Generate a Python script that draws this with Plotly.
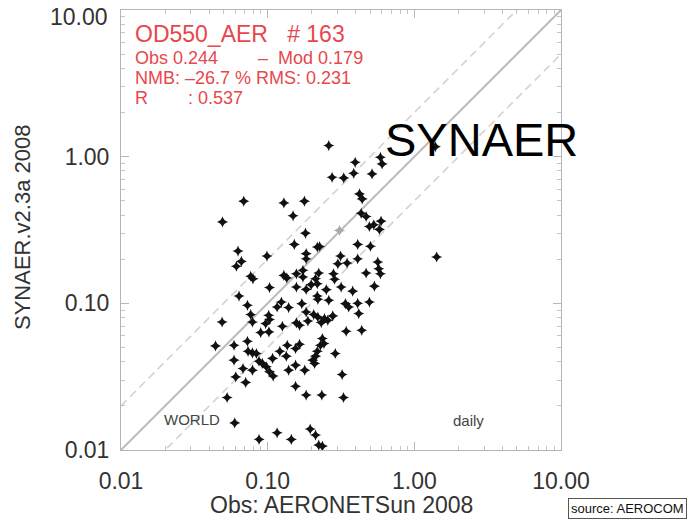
import plotly.graph_objects as go

# Observed (AERONETSun 2008) and modelled (SYNAER.v2.3a 2008) daily AOD at 550 nm
obs = [0.261, 1.39, 0.395, 0.587, 0.603, 0.386, 0.275, 0.330, 0.515, 0.0687, 0.129, 0.178,
       0.423, 0.441, 0.0492, 0.149, 0.434, 0.469, 0.593, 0.494, 0.529, 0.578, 0.181,
       0.152, 0.218, 0.226, 0.411, 0.502, 0.0628, 0.0989, 0.183, 0.183, 0.314, 0.301, 0.348,
       0.411, 0.563, 0.572, 0.587, 1.42, 0.0662, 0.0612, 0.0766, 0.0794, 0.129, 0.135, 0.157,
       0.174, 0.174, 0.212, 0.223, 0.281, 0.286, 0.469, 0.103, 0.157, 0.183, 0.198, 0.218,
       0.251, 0.317, 0.380, 0.534, 0.0638, 0.218, 0.220, 0.261,
       0.0728, 0.124, 0.116, 0.139, 0.171, 0.339, 0.357, 0.411, 0.494, 0.0766, 0.1016, 0.103,
       0.183, 0.206, 0.220, 0.244, 0.278, 0.418, 0.0489, 0.0787, 0.0969, 0.126, 0.157, 0.165,
       0.188, 0.232, 0.257, 0.0896, 0.102, 0.343, 0.438, 0.0441, 0.059, 0.0728, 0.136, 0.165,
       0.155, 0.236, 0.229, 0.242, 0.0735, 0.0787, 0.0838, 0.121, 0.134, 0.218, 0.212, 0.289,
       0.059, 0.0873, 0.092, 0.098, 0.108, 0.203, 0.209, 0.0679, 0.0787, 0.103, 0.109, 0.139,
       0.155, 0.179, 0.0606, 0.0708, 0.322, 0.155, 0.0529, 0.183, 0.234, 0.329, 0.0596,
       0.0873, 0.116, 0.145, 0.195, 0.212, 0.223, 0.236]

mod = [1.19, 1.17, 0.915, 0.989, 0.892, 0.770, 0.723, 0.716, 0.763, 0.497, 0.484, 0.497,
       0.557, 0.515, 0.359, 0.395, 0.411, 0.391, 0.363, 0.334, 0.343, 0.319, 0.301,
       0.252, 0.242, 0.244, 0.252, 0.245, 0.227, 0.210, 0.218, 0.201, 0.210, 0.186, 0.188,
       0.201, 0.191, 0.172, 0.159, 0.207, 0.193, 0.179, 0.153, 0.147, 0.155, 0.149, 0.159,
       0.168, 0.151, 0.147, 0.161, 0.159, 0.146, 0.161, 0.128, 0.129, 0.1245, 0.134, 0.136,
       0.124, 0.129, 0.121, 0.131, 0.112, 0.112, 0.1065, 0.105,
       0.0969, 0.102, 0.0944, 0.0935, 0.0995, 0.0995, 0.0944, 0.100, 0.102, 0.0838, 0.0828,
       0.0775, 0.0873, 0.0838, 0.0807, 0.0787, 0.0820, 0.0851, 0.0746, 0.0746, 0.0728, 0.0698,
       0.0735, 0.0708, 0.0758, 0.0739, 0.0766, 0.0632, 0.0638, 0.0645, 0.0655, 0.0512, 0.0518,
       0.0551, 0.0518, 0.0526, 0.0492, 0.0575, 0.0518, 0.0532, 0.0471, 0.0459, 0.0455, 0.0471,
       0.0436, 0.0471, 0.0436, 0.0455, 0.0410, 0.0403, 0.0389, 0.0369, 0.0421, 0.041, 0.0389,
       0.0359, 0.035, 0.0341, 0.0319, 0.035, 0.0379, 0.035, 0.0315, 0.0289, 0.0327, 0.0272,
       0.0228, 0.0237, 0.0237, 0.0228, 0.0153, 0.0118, 0.0131, 0.0118, 0.0139, 0.01265,
       0.0108, 0.01065]

# grey reference marker on the 1:1 line
ref_obs = [0.309]
ref_mod = [0.314]

line_x = [0.01, 10.0]
factor = 2.0

tick_vals = [0.01, 0.1, 1.0, 10.0]
tick_text = ["0.01", "0.10", "1.00", "10.00"]
minor_vals = [m * d for d in (0.01, 0.1, 1.0) for m in range(2, 10)]

x_title = "Obs: AERONETSun 2008"
y_title = "SYNAER.v2.3a 2008"
stats_title = "OD550_AER   # 163"
stats_lines = ["Obs 0.244        &#8211;  Mod 0.179",
               "NMB: &#8211;26.7 % RMS: 0.231",
               "R        : 0.537"]

RED = "#e8474c"
FONT = "Liberation Sans"
PL, PR, PT, PB = 121, 561, 10, 450   # plot frame in pixels
PW, PH = PR - PL, PB - PT


def px(x):
    return (x - PL) / PW


def py(y):
    return (PB - y) / PH


fig = go.Figure()

fig.add_trace(go.Scatter(x=line_x, y=[v * factor for v in line_x], mode="lines",
                         line=dict(color="#d2d2d2", width=1.6, dash="8px,5px"), hoverinfo="skip"))
fig.add_trace(go.Scatter(x=line_x, y=[v / factor for v in line_x], mode="lines",
                         line=dict(color="#d2d2d2", width=1.6, dash="8px,5px"), hoverinfo="skip"))
fig.add_trace(go.Scatter(x=line_x, y=line_x, mode="lines",
                         line=dict(color="#bdbdbd", width=2), hoverinfo="skip"))
fig.add_trace(go.Scatter(x=ref_obs, y=ref_mod, mode="markers",
                         marker=dict(symbol="star-diamond", size=8, color="#aaaaaa")))
fig.add_trace(go.Scatter(x=obs, y=mod, mode="markers",
                         marker=dict(symbol="star-diamond", size=8, color="#111111")))

tick_font = dict(family=FONT, size=23, color="#333333")
axis_common = dict(
    type="log", range=[-2, 1], tickvals=tick_vals,
    automargin=False,
    showgrid=False, zeroline=False, showline=True, linecolor="#b5b5b5", linewidth=1,
    mirror="ticks", ticks="inside", ticklen=8, tickcolor="#b5b5b5", tickwidth=1,
    tickfont=tick_font,
    minor=dict(tickvals=minor_vals, ticks="inside", ticklen=4, tickcolor="#c5c5c5",
               showgrid=False),
)

# the top y label sits just below the frame corner in the reference; drawn as text below
y_tick_text = tick_text[:-1] + [""]

fig.update_layout(
    width=691, height=523,
    margin=dict(l=PL, r=691 - PR, t=PT, b=523 - PB),
    paper_bgcolor="white", plot_bgcolor="white",
    showlegend=False,
    font=dict(family=FONT),
    xaxis=dict(**axis_common, ticktext=tick_text, ticklabelstandoff=10,
               ticklabeloverflow="allow"),
    yaxis=dict(**axis_common, ticktext=y_tick_text, ticklabelstandoff=6,
               ticklabeloverflow="allow"),
)

fig.add_annotation(xref="paper", yref="paper", x=px(110), y=py(17),
                   xanchor="right", yanchor="middle", showarrow=False,
                   text=tick_text[-1], font=tick_font)

annotations = [
    dict(x=133, y=34, text=stats_title, font=dict(size=23, color=RED)),
    dict(x=133, y=58, text=stats_lines[0], font=dict(size=18, color=RED)),
    dict(x=133, y=78, text=stats_lines[1], font=dict(size=18, color=RED)),
    dict(x=133, y=98, text=stats_lines[2], font=dict(size=18, color=RED)),
    dict(x=162, y=419, text="WORLD", font=dict(size=15, color="#444444")),
    dict(x=451, y=420, text="daily", font=dict(size=15, color="#444444")),
]
for a in annotations:
    fig.add_annotation(xref="paper", yref="paper", x=px(a["x"]), y=py(a["y"]),
                       xanchor="left", yanchor="middle", showarrow=False,
                       text=a["text"], font=dict(family=FONT, **a["font"]))

fig.add_annotation(xref="paper", yref="paper", x=px(481), y=py(139),
                   xanchor="center", yanchor="middle", showarrow=False, text="SYNAER",
                   font=dict(family=FONT, size=47, color="#000000"))

fig.add_annotation(xref="paper", yref="paper", x=px(341), y=py(505),
                   xanchor="center", yanchor="middle", showarrow=False, text=x_title,
                   font=dict(family=FONT, size=23, color="#333333"))
fig.add_annotation(xref="paper", yref="paper", x=px(22), y=py(228), textangle=-90,
                   xanchor="center", yanchor="middle", showarrow=False, text=y_title,
                   font=dict(family=FONT, size=22, color="#333333"))

fig.add_annotation(xref="paper", yref="paper", x=px(687), y=py(508),
                   xanchor="right", yanchor="middle", showarrow=False,
                   text="source: AEROCOM", bordercolor="#555555", borderwidth=1, borderpad=2,
                   bgcolor="white", font=dict(family=FONT, size=13, color="#111111"))

fig.write_html("out.html")
